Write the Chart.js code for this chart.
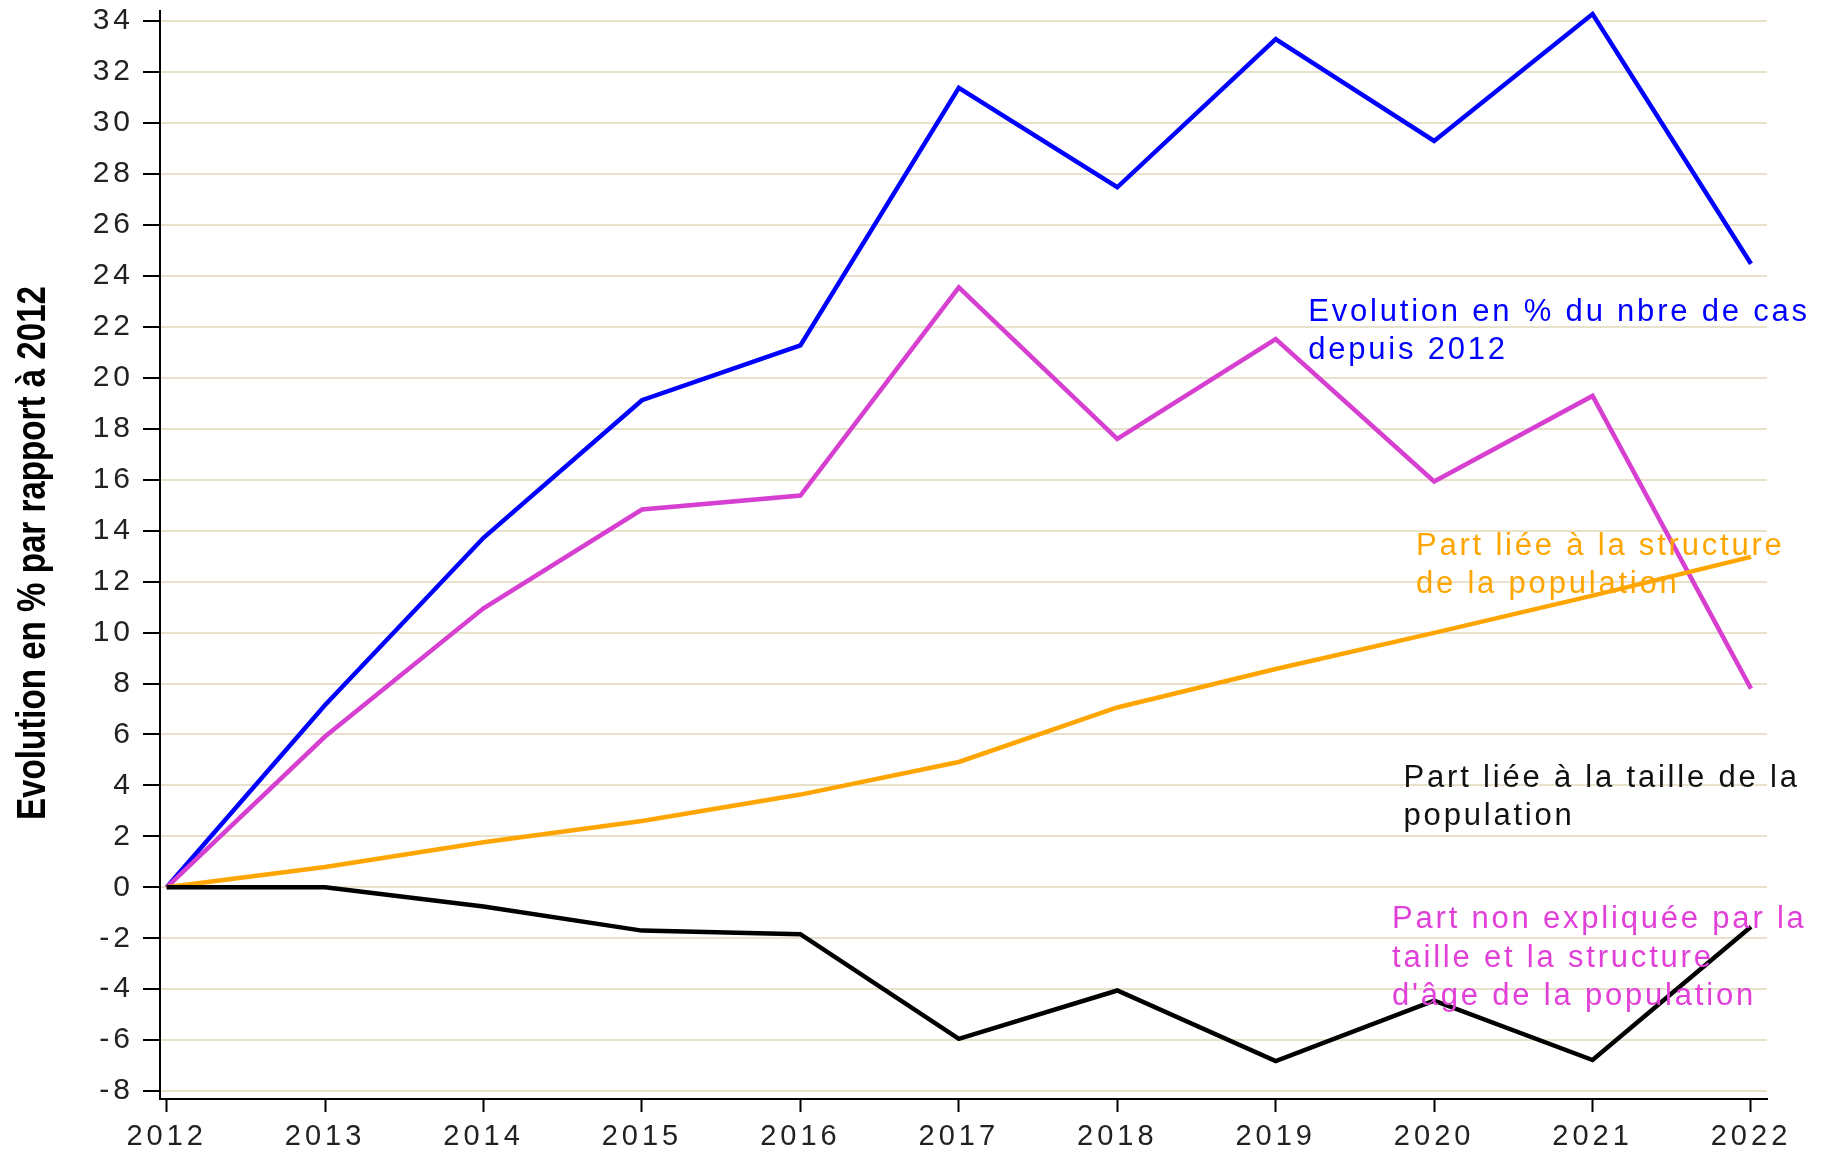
<!DOCTYPE html>
<html lang="fr">
<head>
<meta charset="UTF-8">
<title>Evolution en % par rapport à 2012</title>
<style>
    * {
        margin: 0;
        padding: 0;
        box-sizing: border-box;
    }

    body {
        background: #fff;
        width: 1821px;
        height: 1155px;
        overflow: hidden;
    }
</style>
</head>
<body>
<canvas id="evoChart" width="1821" height="1155"></canvas>

<script src="https://cdn.jsdelivr.net/npm/chart.js"></script>
<script>
    // data
    var years = [2012, 2013, 2014, 2015, 2016, 2017, 2018, 2019, 2020, 2021, 2022];
    var yTicks = [-8, -6, -4, -2, 0, 2, 4, 6, 8, 10, 12, 14, 16, 18, 20, 22, 24, 26, 28, 30, 32, 34];
    var nbreCas = [0, 7.16, 13.72, 19.12, 21.27, 31.38, 27.48, 33.3, 29.3, 34.28, 24.48];
    var partNonExpliquee = [0, 5.92, 10.95, 14.83, 15.38, 23.55, 17.6, 21.52, 15.93, 19.29, 7.8];
    var partStructure = [0, 0.8, 1.77, 2.6, 3.64, 4.92, 7.06, 8.57, 9.99, 11.45, 12.97];
    var partTaille = [0, 0, -0.75, -1.7, -1.84, -5.95, -4.05, -6.82, -4.45, -6.78, -1.55];

    var yTitle = 'Evolution en % par rapport à 2012';

    // text notes placed in data units (year, value of first baseline)
    var notes = [
        { lines: ['Evolution en % du nbre de cas', 'depuis 2012'], x: 2019.205, y: 22.23, color: '#0000ff' },
        { lines: ['Part liée à la structure', 'de la population'], x: 2019.885, y: 13.06, color: '#ffa500' },
        { lines: ['Part liée à la taille de la', 'population'], x: 2019.807, y: 3.94, color: '#111111' },
        { lines: ['Part non expliquée par la', 'taille et la structure', "d'âge de la population"], x: 2019.734, y: -1.61, color: '#e040d8' }
    ];

    function points(arr) {
        return years.map(function (yr, i) { return { x: yr, y: arr[i] }; });
    }

    function line(arr, color) {
        return {
            data: points(arr),
            borderColor: color,
            backgroundColor: color,
            borderWidth: 4.5,
            borderJoinStyle: 'miter',
            pointRadius: 0,
            tension: 0
        };
    }

    var textPlugin = {
        id: 'textPlugin',
        beforeDraw: function (chart) {
            chart.ctx.letterSpacing = '4px';
        },
        afterDraw: function (chart) {
            var ctx = chart.ctx;
            var xs = chart.scales.x, ys = chart.scales.y;

            // notes on the right
            ctx.save();
            ctx.letterSpacing = '2.8px';
            ctx.font = '31px "Liberation Sans", Arial, sans-serif';
            ctx.textAlign = 'left';
            ctx.textBaseline = 'alphabetic';
            notes.forEach(function (n) {
                var px = xs.getPixelForValue(n.x);
                var py = ys.getPixelForValue(n.y);
                ctx.fillStyle = n.color;
                n.lines.forEach(function (t, i) {
                    ctx.fillText(t, px, py + i * 38.3);
                });
            });
            ctx.restore();

            // vertical axis title, condensed bold
            ctx.save();
            ctx.letterSpacing = '0px';
            ctx.font = 'bold 40px "Liberation Sans", Arial, sans-serif';
            var w = ctx.measureText(yTitle).width;
            ctx.translate(45, (chart.chartArea.top + chart.chartArea.bottom) / 2 - 2);
            ctx.rotate(-Math.PI / 2);
            ctx.scale(534 / w, 1);
            ctx.textAlign = 'center';
            ctx.fillStyle = '#000';
            ctx.fillText(yTitle, 0, 0);
            ctx.restore();
        }
    };

    var ctx = document.getElementById('evoChart').getContext('2d');
    var evoChart = new Chart(ctx, {
        type: 'line',
        data: {
            datasets: [
                line(partTaille, '#000000'),
                line(partStructure, '#ffa500'),
                line(partNonExpliquee, '#d63fd0'),
                line(nbreCas, '#0000ff')
            ]
        },
        options: {
            responsive: false,
            animation: false,
            layout: { autoPadding: false, padding: { top: 11, right: 54, left: 0, bottom: 0 } },
            plugins: {
                legend: { display: false },
                tooltip: { enabled: false }
            },
            scales: {
                x: {
                    type: 'linear',
                    min: 2011.958,
                    max: 2022.101,
                    afterBuildTicks: function (s) { s.ticks = years.map(function (v) { return { value: v }; }); },
                    afterFit: function (s) {
                        s.height = 56;
                        s.paddingLeft = 0;
                        s.paddingRight = 0;
                    },
                    border: { color: '#000', width: 2 },
                    grid: { drawOnChartArea: false, tickLength: 13, tickColor: '#000', tickWidth: 2 },
                    ticks: {
                        color: '#222',
                        font: { family: '"Liberation Sans", Arial, sans-serif', size: 29 },
                        padding: 8,
                        maxRotation: 0,
                        autoSkip: false,
                        callback: function (v) { return String(v); }
                    }
                },
                y: {
                    min: -8.31,
                    max: 34.4,
                    afterBuildTicks: function (s) { s.ticks = yTicks.map(function (v) { return { value: v }; }); },
                    afterFit: function (s) {
                        s.width = 160;
                        s.paddingTop = 0;
                        s.paddingBottom = 0;
                    },
                    border: { color: '#000', width: 2 },
                    grid: { color: '#e8e1cb', lineWidth: 2, tickColor: '#000', tickLength: 17, tickWidth: 2 },
                    ticks: {
                        color: '#222',
                        font: { family: '"Liberation Sans", Arial, sans-serif', size: 30 },
                        padding: 9,
                        autoSkip: false
                    }
                }
            }
        },
        plugins: [textPlugin]
    });
</script>
</body>
</html>
